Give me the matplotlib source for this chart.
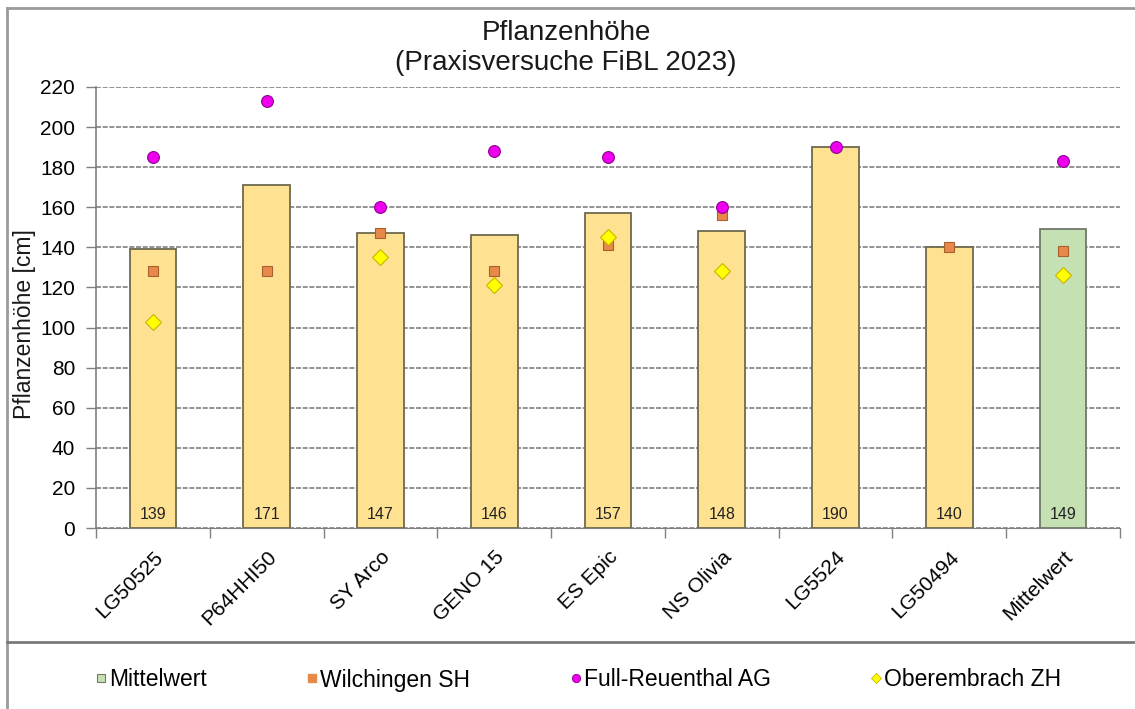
import numpy as np
import matplotlib
matplotlib.use("Agg")
import matplotlib.pyplot as plt
from matplotlib.lines import Line2D

plt.rcParams['font.family'] = ['Liberation Sans', 'DejaVu Sans']

categories = ["LG50525", "P64HHI50", "SY Arco", "GENO 15", "ES Epic",
              "NS Olivia", "LG5524", "LG50494", "Mittelwert"]
bar_values = [139, 171, 147, 146, 157, 148, 190, 140, 149]
wilchingen = [128, 128, 147, 128, 141, 156, np.nan, 140, 138]
full_reuenthal = [185, 213, 160, 188, 185, 160, 190, np.nan, 183]
oberembrach = [103, np.nan, 135, 121, 145, 128, np.nan, np.nan, 126]
y_ticks = list(range(0, 221, 20))

W, H = 1135, 709
fig = plt.figure(figsize=(W / 100, H / 100), dpi=100)

def fx(px):
    return px / W

def fy(py):
    return 1 - py / H

ax = fig.add_axes([fx(96), fy(528), fx(1120) - fx(96), fy(87) - fy(528)])

x = np.arange(len(categories))
bar_colors = ['#FFE291'] * (len(categories) - 1) + ['#C5E0B3']
edge_colors = ['#6E6A4E'] * (len(categories) - 1) + ['#6F7A6A']
ax.bar(x, bar_values, width=0.41, color=bar_colors, edgecolor=edge_colors,
       linewidth=1.3, zorder=2)

for xi, v in zip(x, bar_values):
    ax.annotate(f"{v}", (xi, 0), xytext=(0, 10), textcoords='offset points',
                ha='center', va='center', fontsize=11.5, color='#222222', zorder=4)

ax.plot(x, wilchingen, linestyle='none', marker='s', markersize=7.5,
        markerfacecolor='#E8894A', markeredgecolor='#A86030', markeredgewidth=0.8, zorder=3)
ax.plot(x, full_reuenthal, linestyle='none', marker='o', markersize=8.5,
        markerfacecolor='#EE00EE', markeredgecolor='#8E008E', markeredgewidth=0.8, zorder=3)
ax.plot(x, oberembrach, linestyle='none', marker='D', markersize=8,
        markerfacecolor='#FFFF00', markeredgecolor='#C8B400', markeredgewidth=0.8, zorder=3)

ax.set_xlim(-0.5, len(categories) - 0.5)
ax.set_ylim(0, 220)
ax.set_yticks(y_ticks)
ax.yaxis.grid(True, color='#7f7f7f', linewidth=1.2, linestyle=(0, (3, 1)), zorder=0)
ax.set_axisbelow(True)

ax.set_xticks(x)
ax.set_xticklabels(categories, rotation=45, ha='right', rotation_mode='anchor', fontsize=15)
ax.set_xticks(np.arange(-0.5, len(categories)), minor=True)
ax.tick_params(axis='x', which='major', length=0, pad=14)
ax.tick_params(axis='x', which='minor', length=7, color='#808080', width=1)
ax.tick_params(axis='y', which='major', length=7, color='#808080', width=1, pad=8, labelsize=15)

for s in ['top', 'right']:
    ax.spines[s].set_visible(False)
ax.spines['left'].set_color('#808080')
ax.spines['bottom'].set_color('#808080')
ax.spines['left'].set_linewidth(1.2)

fig.text(fx(25), fy(324), "Pflanzenhöhe [cm]", rotation=90, ha='center', va='center',
         fontsize=16.5, color='#1a1a1a')
fig.text(fx(566), fy(48), "Pflanzenhöhe\n(Praxisversuche FiBL 2023)", ha='center', va='center',
         fontsize=20, linespacing=1.15, color='#1a1a1a')

# frame lines
fig.add_artist(Line2D([fx(7), 1], [fy(8), fy(8)], color='#9a9a9a', linewidth=2, transform=fig.transFigure))
fig.add_artist(Line2D([fx(7), fx(7)], [0, fy(8)], color='#9a9a9a', linewidth=2, transform=fig.transFigure))
fig.add_artist(Line2D([fx(7), 1], [fy(642), fy(642)], color='#7a7a7a', linewidth=2, transform=fig.transFigure))

handles = [
    Line2D([], [], linestyle='none', marker='s', markersize=6, markerfacecolor='#C5E0B3',
           markeredgecolor='#6F7A6A', markeredgewidth=0.8),
    Line2D([], [], linestyle='none', marker='s', markersize=5.5, markerfacecolor='#E8894A',
           markeredgecolor='#E8894A'),
    Line2D([], [], linestyle='none', marker='o', markersize=6, markerfacecolor='#EE00EE',
           markeredgecolor='#8E008E', markeredgewidth=0.6),
    Line2D([], [], linestyle='none', marker='D', markersize=5, markerfacecolor='#FFFF00',
           markeredgecolor='#C8B400', markeredgewidth=0.6),
]
labels = ["Mittelwert", "Wilchingen SH", "Full-Reuenthal AG", "Oberembrach ZH"]
fig.legend(handles, labels, loc='center', bbox_to_anchor=(fx(579), fy(680)), ncol=4,
           frameon=False, fontsize=16.5, handlelength=0.4, handletextpad=0.15,
           columnspacing=4.4, borderpad=0)

fig.savefig("out.png", dpi=100)
